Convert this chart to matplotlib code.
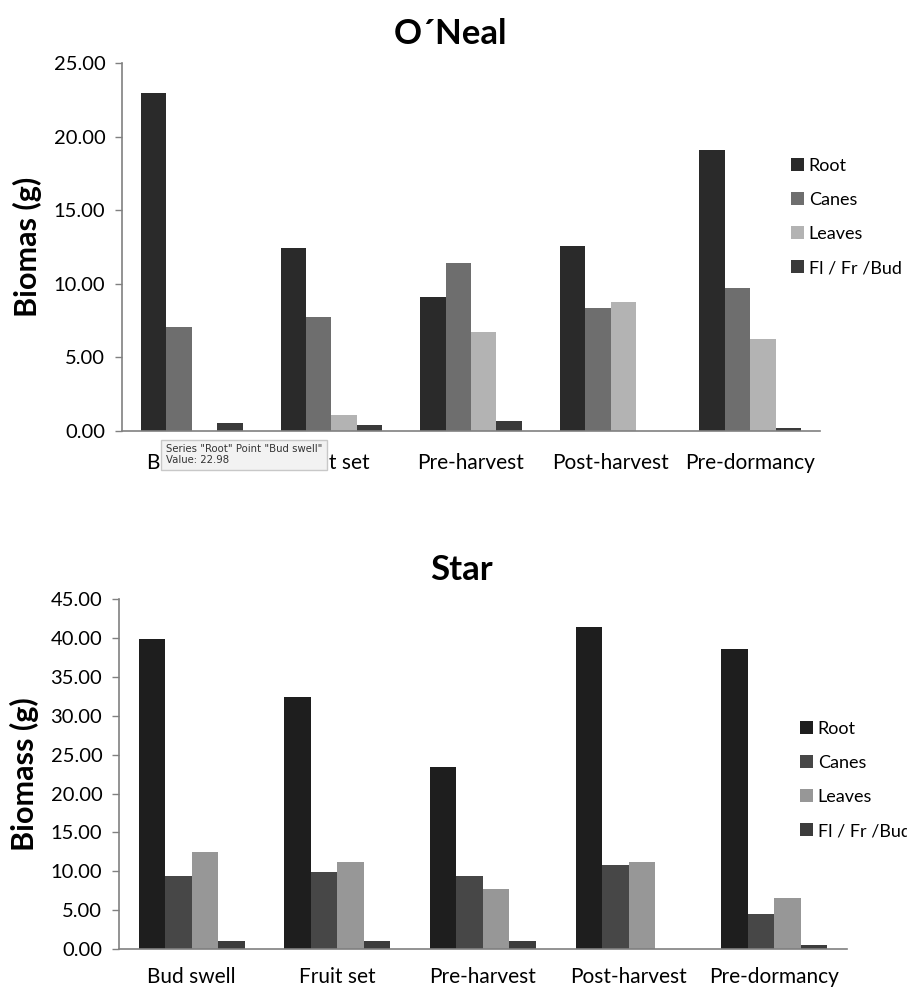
import numpy as np
import matplotlib.pyplot as plt

plt.rcParams['font.family'] = ['Lato', 'DejaVu Sans']

stages = ['Bud swell', 'Fruit set', 'Pre-harvest', 'Post-harvest', 'Pre-dormancy']
parts = ['Root', 'Canes', 'Leaves', 'Fl / Fr /Bud']

# O'Neal biomass (g)
oneal_root = [22.98, 12.41, 9.12, 12.59, 19.11]
oneal_canes = [7.09, 7.77, 11.39, 8.36, 9.69]
oneal_leaves = [0.0, 1.09, 6.75, 8.79, 6.23]
oneal_flower = [0.52, 0.41, 0.70, 0.0, 0.20]

# Star biomass (g)
star_root = [39.93, 32.43, 23.38, 41.40, 38.57]
star_canes = [9.44, 9.87, 9.44, 10.77, 4.47]
star_leaves = [12.44, 11.24, 7.72, 11.24, 6.60]
star_flower = [1.07, 1.07, 1.07, 0.0, 0.51]

oneal_colors = ['#2a2a2a', '#6e6e6e', '#b3b3b3', '#3a3a3a']
star_colors = ['#1e1e1e', '#474747', '#979797', '#3c3c3c']


def draw_panel(ax, series, colors, title, ylabel, ymax, xpad, legend_xy):
    x = np.arange(len(stages))
    w = 0.182
    for i, (vals, col) in enumerate(zip(series, colors)):
        ax.bar(x + (i - 1.5) * w, vals, width=w, color=col, label=parts[i])
    ax.set_xlim(-0.5, len(stages) - 0.5)
    ax.set_ylim(0, ymax)
    ax.set_yticks(np.arange(0, ymax + 0.1, 5))
    ax.yaxis.set_major_formatter(plt.FuncFormatter(lambda v, p: f'{v:.2f}'))
    ax.set_xticks(x)
    ax.set_xticklabels(stages)
    ax.tick_params(axis='x', length=0, pad=xpad, labelsize=15)
    ax.tick_params(axis='y', length=5, width=1, color='#808080', labelsize=14.5, pad=7)
    for s in ['top', 'right']:
        ax.spines[s].set_visible(False)
    for s in ['left', 'bottom']:
        ax.spines[s].set_color('#808080')
        ax.spines[s].set_linewidth(1.2)
    ax.set_ylabel(ylabel, fontsize=22, fontweight='bold', labelpad=8)
    ax.set_title(title, fontsize=25, fontweight='bold', pad=14, x=0.47)
    ax.legend(loc='upper left', bbox_to_anchor=legend_xy, frameon=False,
              fontsize=13, handlelength=0.75, handleheight=0.75,
              handletextpad=0.25, labelspacing=1.0, borderpad=0, borderaxespad=0)


fig = plt.figure(figsize=(9.07, 9.92), dpi=100)
ax1 = fig.add_axes([0.1345, 0.5655, 0.7695, 0.371])
ax2 = fig.add_axes([0.1312, 0.0433, 0.8026, 0.3526])

draw_panel(ax1, [oneal_root, oneal_canes, oneal_leaves, oneal_flower], oneal_colors,
           'O\u00b4Neal', 'Biomas (g)', 25, 16, (0.958, 0.742))
draw_panel(ax2, [star_root, star_canes, star_leaves, star_flower], star_colors,
           'Star', 'Biomass (g)', 45, 13, (0.935, 0.652))

# hover tooltip captured in the original screenshot
fig.text(0.183, 0.5415, 'Series "Root" Point "Bud swell"\nValue: 22.98',
         fontsize=7.3, color='#333333', va='center', ha='left', family='DejaVu Sans',
         linespacing=1.15,
         bbox=dict(boxstyle='square,pad=0.45', facecolor='#f2f2f2', edgecolor='#c8c8c8'))

fig.savefig('out.png', dpi=100)
